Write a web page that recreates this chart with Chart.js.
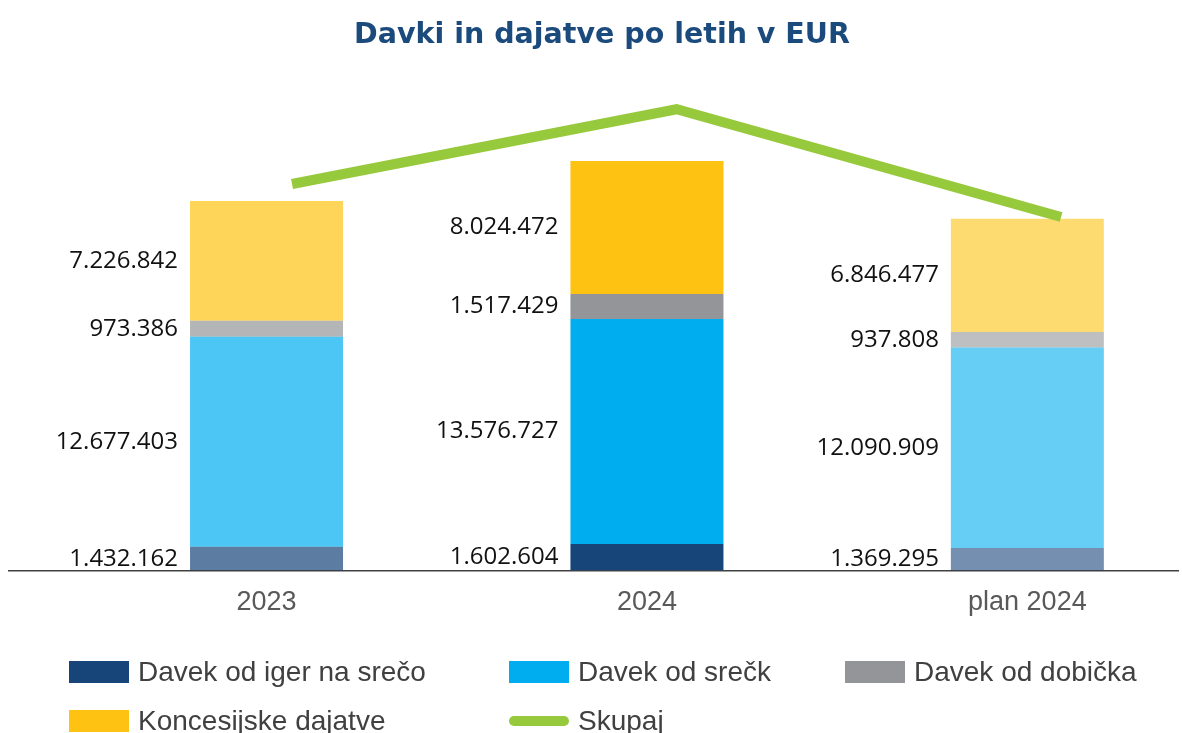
<!DOCTYPE html>
<html lang="sl">
<head>
<meta charset="utf-8">
<title>Davki in dajatve po letih v EUR</title>
<script src="https://cdn.jsdelivr.net/npm/chart.js@4.4.1/dist/chart.umd.min.js"></script>
<style>
  html, body { margin: 0; padding: 0; background: #fff; }
  #wrap { position: relative; width: 1182px; height: 733px; overflow: hidden; }
  #chart { position: absolute; left: 0; top: 0; }
  #title { position: absolute; left: 22px; right: 0; top: 17px; text-align: center;
           font: bold 28.5px "DejaVu Sans", sans-serif; color: #1b4a7c; }
  #legend { position: absolute; left: 69px; top: 658px; display: grid;
            grid-template-columns: 440px 336px auto; grid-auto-rows: 49px;
            font: 28px "Liberation Sans", Arial, sans-serif; color: #404040; }
  .item { display: flex; align-items: center; height: 28px; white-space: nowrap; }
  .box { width: 60px; height: 22px; margin-right: 9px; }
  .line { width: 60px; height: 10px; border-radius: 5px; margin-right: 9px; }
</style>
</head>
<body>
<div id="wrap">
  <canvas id="chart" width="1182" height="733"></canvas>
  <div id="title">Davki in dajatve po letih v EUR</div>
  <div id="legend"></div>
</div>
<script>
// podatki
const categories = ['2023', '2024', 'plan 2024'];
const igreNaSreco = [1432162, 1602604, 1369295];
const srecke = [12677403, 13576727, 12090909];
const dobicek = [973386, 1517429, 937808];
const koncesije = [7226842, 8024472, 6846477];
const skupaj = [22309793, 24721232, 21244489];

// 2023 and plan bars are paler than 2024
const barAlpha = [0.7, 1, 0.6];

function rgba(hex, a) {
  const n = parseInt(hex.slice(1), 16);
  return `rgba(${n >> 16}, ${(n >> 8) & 255}, ${n & 255}, ${a})`;
}

// 1432162 -> 1.432.162
const fmt = v => String(v).replace(/\B(?=(\d{3})+(?!\d))/g, '.');

const series = [
  { label: 'Davek od iger na srečo', data: igreNaSreco, color: '#17457a' },
  { label: 'Davek od srečk', data: srecke, color: '#00aeef' },
  { label: 'Davek od dobička', data: dobicek, color: '#939598' },
  { label: 'Koncesijske dajatve', data: koncesije, color: '#fec312' }
];
const lineColor = '#97c93c';

const toPoints = arr => arr.map((v, i) => ({ x: i, y: v }));

const barSets = series.map(s => ({
  type: 'bar',
  label: s.label,
  data: toPoints(s.data),
  backgroundColor: barAlpha.map(a => rgba(s.color, a)),
  borderWidth: 0,
  grouped: false,
  maxBarThickness: 153,
  order: 1
}));

const lineSet = {
  type: 'line',
  label: 'Skupaj',
  data: toPoints(skupaj),
  xAxisID: 'x2',
  yAxisID: 'y2',
  borderColor: lineColor,
  borderWidth: 10,
  borderCapStyle: 'butt',
  borderJoinStyle: 'miter',
  pointRadius: 0,
  tension: 0,
  clip: false,
  order: 0
};

// values to the left of each segment
const valueLabels = {
  id: 'valueLabels',
  afterDatasetsDraw(chart) {
    const ctx = chart.ctx;
    ctx.save();
    ctx.font = '24px "Open Sans", sans-serif';
    ctx.fillStyle = '#111';
    ctx.textAlign = 'right';
    ctx.textBaseline = 'middle';
    chart.data.datasets.forEach((ds, i) => {
      if (ds.type !== 'bar') return;
      chart.getDatasetMeta(i).data.forEach((bar, j) => {
        const left = bar.x - bar.width / 2;
        ctx.fillText(fmt(ds.data[j].y), left - 12, (bar.y + bar.base) / 2);
      });
    });
    ctx.restore();
  }
};

const ctx = document.getElementById('chart').getContext('2d');
new Chart(ctx, {
  type: 'bar',
  data: { datasets: [lineSet, ...barSets] },
  options: {
    responsive: false,
    animation: false,
    layout: { padding: { left: 9, right: 4, top: 60, bottom: 98 } },
    plugins: { legend: { display: false }, tooltip: { enabled: false } },
    scales: {
      x: {
        type: 'linear',
        stacked: true,
        offset: false,
        min: -0.677,
        max: 2.396,
        grid: { display: false, drawTicks: false, offset: false },
        border: { display: true, color: '#404040', width: 1.5 },
        ticks: {
          stepSize: 1,
          includeBounds: false,
          autoSkip: false,
          maxRotation: 0,
          padding: 16,
          color: '#595959',
          font: { family: '"Liberation Sans", Arial, sans-serif', size: 27 },
          callback: v => categories[v] ?? ''
        }
      },
      x2: { type: 'linear', display: false, offset: false, min: -0.736, max: 2.304 },
      y: { stacked: true, display: false, min: 0, max: 30820000 },
      y2: { display: false, min: 9834000, max: 26310000 }
    }
  },
  plugins: [valueLabels]
});

// legenda
const legendEl = document.getElementById('legend');
series.forEach(s => {
  legendEl.insertAdjacentHTML('beforeend',
    `<div class="item"><span class="box" style="background:${s.color}"></span>${s.label}</div>`);
});
legendEl.insertAdjacentHTML('beforeend',
  `<div class="item"><span class="line" style="background:${lineColor}"></span>${lineSet.label}</div>`);
</script>
</body>
</html>
